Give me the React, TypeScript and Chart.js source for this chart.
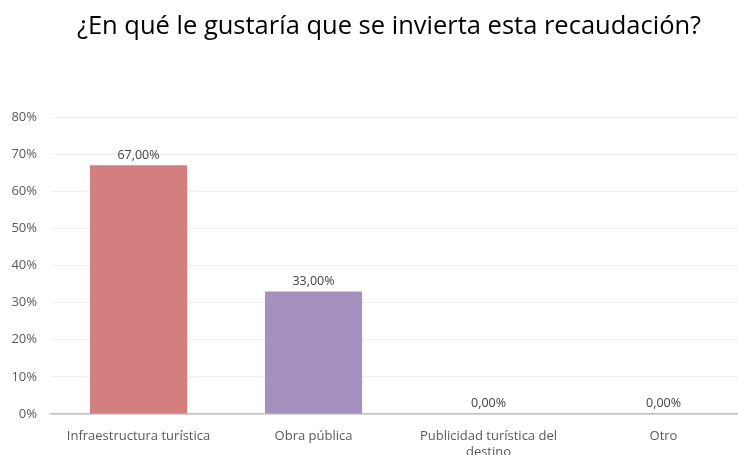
import React, { useEffect, useRef } from "react";
import { Chart, registerables } from "chart.js";

Chart.register(...registerables);

const titleText = "¿En qué le gustaría que se invierta esta recaudación?";
const categories: (string | string[])[] = [
  "Infraestructura turística",
  "Obra pública",
  ["Publicidad turística del", "destino"],
  "Otro",
];
const values = [67, 33, 0, 0];
const barColors = ["#D37F7F", "#A690BF", "#8FB0D6", "#9CC58B"];
const yTicks = [0, 10, 20, 30, 40, 50, 60, 70, 80];

const FONT = "'Open Sans', sans-serif";

export default function App() {
  const ref = useRef<HTMLCanvasElement | null>(null);

  useEffect(() => {
    if (!ref.current) return;
    const titlePlugin = {
      id: "customTitle",
      afterDraw(chart: any) {
        const ctx = chart.ctx;
        ctx.save();
        ctx.fillStyle = "#000000";
        ctx.font = `25.5px ${FONT}`;
        ctx.textAlign = "center";
        ctx.textBaseline = "middle";
        ctx.fillText(titleText, 389, 27);
        ctx.restore();
      },
    };
    const labelPlugin = {
      id: "valueLabels",
      afterDatasetsDraw(chart: any) {
        const ctx = chart.ctx;
        const meta = chart.getDatasetMeta(0);
        ctx.save();
        ctx.fillStyle = "#404040";
        ctx.font = `12.5px ${FONT}`;
        ctx.textAlign = "center";
        ctx.textBaseline = "bottom";
        meta.data.forEach((bar: any, i: number) => {
          const v = values[i];
          ctx.fillText(v.toFixed(2).replace(".", ",") + "%", bar.x, bar.y - 4);
        });
        ctx.restore();
      },
    };
    const chart = new Chart(ref.current, {
      type: "bar",
      data: {
        labels: categories,
        datasets: [
          {
            data: values,
            backgroundColor: barColors,
            categoryPercentage: 1,
            barPercentage: 0.555,
          },
        ],
      },
      options: {
        animation: false,
        responsive: false,
        maintainAspectRatio: false,
        layout: { padding: { top: 117, right: 1, bottom: 0, left: 0 } },
        plugins: {
          legend: { display: false },
          title: { display: false },
          tooltip: { enabled: false },
        },
        scales: {
          x: {
            grid: { display: false },
            border: { display: true, color: "#BFBFBF", width: 1.5 },
            ticks: {
              color: "#595959",
              font: { family: FONT, size: 13, lineHeight: 1.25 },
              padding: 6,
              maxRotation: 0,
              autoSkip: false,
            },
            afterFit(scale: any) {
              scale.height = 51;
            },
          },
          y: {
            min: 0,
            max: 80,
            afterBuildTicks(scale: any) {
              scale.ticks = yTicks.map((v) => ({ value: v }));
            },
            grid: { color: "#EFEFEF", drawTicks: false },
            border: { display: false },
            ticks: {
              color: "#595959",
              font: { family: FONT, size: 13 },
              padding: 14,
              callback: (v: any) => v + "%",
            },
            afterFit(scale: any) {
              scale.width = 51;
            },
          },
        },
      },
      plugins: [titlePlugin, labelPlugin],
    });
    return () => chart.destroy();
  }, []);

  return (
    <div
      style={{
        position: "fixed",
        left: 0,
        top: 0,
        width: 738,
        height: 455,
        overflow: "hidden",
        background: "#ffffff",
      }}
    >
      <canvas ref={ref} width={752} height={465} style={{ width: 752, height: 465 }} />
    </div>
  );
}
